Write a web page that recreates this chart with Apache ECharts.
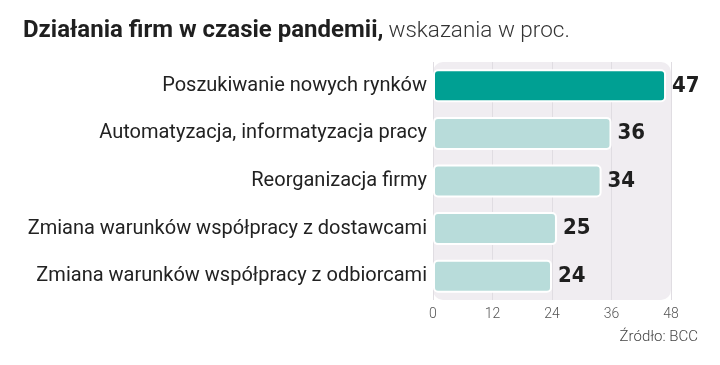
<!DOCTYPE html>
<html>
<head>
<meta charset="utf-8">
<script src="https://cdn.jsdelivr.net/npm/echarts@6/dist/echarts.min.js"></script>
<style>html,body{margin:0;padding:0;background:#fff}#c{width:720px;height:365px}</style>
</head>
<body>
<div id="c"></div>
<script>
var categories = [
  "Poszukiwanie nowych rynków",
  "Automatyzacja, informatyzacja pracy",
  "Reorganizacja firmy",
  "Zmiana warunków współpracy z dostawcami",
  "Zmiana warunków współpracy z odbiorcami"
];
var values = [47, 36, 34, 25, 24];
var highlight = [true, false, false, false, false];
var xTicks = [0, 12, 24, 36, 48];

var chart = echarts.init(document.getElementById('c'));
var data = values.map(function (v, i) {
  return {
    value: v,
    itemStyle: { color: highlight[i] ? '#00a093' : '#b8dcda' }
  };
});
var baseGraphic = [{
  type: 'text', right: 22, top: 330,
  style: { text: 'Źródło: BCC', font: '300 15px Roboto', fill: '#444' }
}];
chart.setOption({
  animation: false,
  backgroundColor: '#ffffff',
  title: {
    left: 18, top: 14,
    text: '{b|Działania firm w czasie pandemii,} {l|wskazania w proc.}',
    textStyle: {
      rich: {
        b: { fontFamily: 'Roboto', fontWeight: 'bold', fontSize: 24, color: '#1f1f1f' },
        l: { fontFamily: 'Roboto', fontWeight: 300, fontSize: 22.5, color: '#333333' }
      }
    }
  },
  graphic: baseGraphic,
  grid: {
    left: 433, right: 49, top: 62, bottom: 65,
    show: false
  },
  xAxis: {
    type: 'value', min: xTicks[0], max: xTicks[xTicks.length - 1], interval: 12,
    axisLine: { show: false }, axisTick: { show: false },
    splitLine: { show: true, lineStyle: { color: '#e0dde2', width: 1 } },
    axisLabel: { color: '#555', fontFamily: 'Roboto', fontWeight: 300, fontSize: 14, margin: 7,
      formatter: function (v) { return xTicks.indexOf(v) >= 0 ? String(v) : ''; } }
  },
  yAxis: {
    type: 'category', data: categories, inverse: true,
    axisLine: { show: false }, axisTick: { show: false },
    axisLabel: { color: '#222', fontFamily: 'Roboto', fontSize: 20, margin: 6 }
  },
  series: [{
    type: 'bar', data: data, barWidth: 33,
    itemStyle: { borderColor: '#ffffff', borderWidth: 2, borderRadius: 4 },
    label: {
      show: true, position: 'right', distance: 6,
      fontFamily: 'DejaVu Sans Condensed', fontWeight: 'bold', fontSize: 22, color: '#1f1f1f'
    }
  }]
});
// rounded plot background covering the grid area (derived from the axes)
var x0 = chart.convertToPixel({ xAxisIndex: 0 }, xTicks[0]);
var x1 = chart.convertToPixel({ xAxisIndex: 0 }, xTicks[xTicks.length - 1]);
var rect = chart.getModel().getComponent('grid').coordinateSystem.getRect();
chart.setOption({
  graphic: baseGraphic.concat([{
    type: 'rect', z: -10, silent: true,
    shape: { x: x0, y: rect.y, width: x1 - x0, height: rect.height, r: 10 },
    style: { fill: '#f0edf1' }
  }])
});
</script>
</body>
</html>
